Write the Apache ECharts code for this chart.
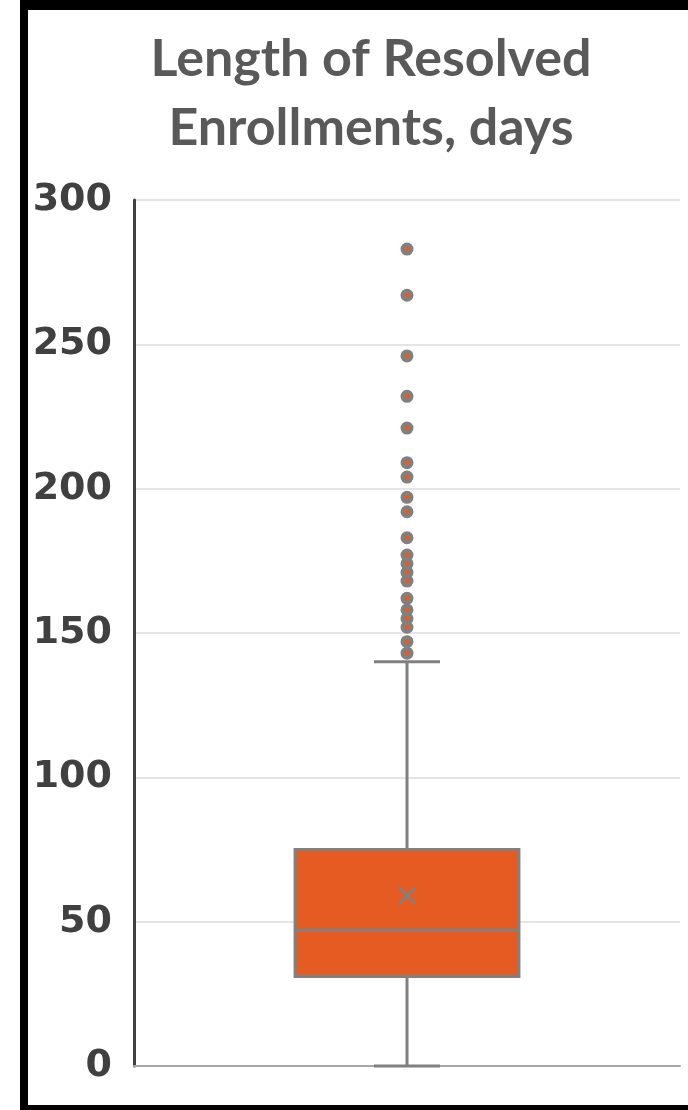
<!DOCTYPE html>
<html>
<head>
<meta charset="utf-8">
<script src="https://cdn.jsdelivr.net/npm/echarts@6/dist/echarts.min.js"></script>
<style>
  html, body { margin: 0; padding: 0; background: #ffffff; }
  #chart { width: 688px; height: 1110px; }
</style>
</head>
<body>
<div id="chart"></div>
<script>
// ---- data ----
const categories = ['Length of Resolved Enrollments'];
// [lower whisker, Q1, median, Q3, upper whisker]
const boxStats = [0, 31, 47, 75, 140];
const meanValue = 59;
const outliers = [283, 267, 246, 232, 221, 209, 204, 197, 192, 183, 177, 174, 171, 168, 162, 158, 155, 152, 147, 143];
const yTicks = { min: 0, max: 300, interval: 50 };
const titleText = 'Length of Resolved\nEnrollments, days';

const BOX_FILL = '#E55B22';
const GRAY = '#808080';

const chart = echarts.init(document.getElementById('chart'));

const option = {
  backgroundColor: '#ffffff',
  animation: false,
  title: {
    text: titleText,
    left: 366,
    top: 20,
    textAlign: 'center',
    textStyle: {
      fontFamily: 'Lato',
      fontWeight: 'bold',
      fontSize: 52,
      lineHeight: 69,
      color: '#595959'
    }
  },
  graphic: [
    { type: 'rect', shape: { x: 20, y: 0, width: 8, height: 1110 }, style: { fill: '#000' }, z: 100 },
    { type: 'rect', shape: { x: 20, y: 0, width: 668, height: 10 }, style: { fill: '#000' }, z: 100 },
    { type: 'rect', shape: { x: 20, y: 1105, width: 668, height: 5 }, style: { fill: '#000' }, z: 100 }
  ],
  grid: { left: 134, right: 8, top: 200, bottom: 44, containLabel: false },
  xAxis: {
    type: 'category',
    data: categories,
    boundaryGap: true,
    axisLine: { show: true, lineStyle: { color: '#a6a6a6', width: 2 } },
    axisTick: { show: false },
    axisLabel: { show: false },
    splitLine: { show: false }
  },
  yAxis: {
    type: 'value',
    min: yTicks.min,
    max: yTicks.max,
    interval: yTicks.interval,
    axisLine: { show: true, lineStyle: { color: '#404040', width: 3 } },
    axisTick: { show: false },
    axisLabel: {
      margin: 22,
      fontFamily: 'DejaVu Sans',
      fontWeight: 'bold',
      fontSize: 38,
      color: '#404040'
    },
    splitLine: { show: true, lineStyle: { color: '#dcdcdc', width: 1.5 } }
  },
  series: [
    {
      type: 'custom',
      z: 3,
      data: [[0].concat(boxStats, [meanValue])],
      renderItem: function (params, api) {
        const x = api.value(0);
        const pMin = api.coord([x, api.value(1)]);
        const pQ1 = api.coord([x, api.value(2)]);
        const pMed = api.coord([x, api.value(3)]);
        const pQ3 = api.coord([x, api.value(4)]);
        const pMax = api.coord([x, api.value(5)]);
        const pMean = api.coord([x, api.value(6)]);
        const band = api.size([1, 0])[0];
        const halfBox = band * 0.41 / 2;
        const halfCap = band * 0.121 / 2;
        const cx = pMed[0];
        const lineStyle = { stroke: GRAY, lineWidth: 3, fill: null };
        const m = 8;
        return {
          type: 'group',
          children: [
            { type: 'line', shape: { x1: cx, y1: pQ3[1], x2: cx, y2: pMax[1] }, style: lineStyle },
            { type: 'line', shape: { x1: cx, y1: pQ1[1], x2: cx, y2: pMin[1] }, style: lineStyle },
            { type: 'line', shape: { x1: cx - halfCap, y1: pMax[1], x2: cx + halfCap, y2: pMax[1] }, style: lineStyle },
            { type: 'line', shape: { x1: cx - halfCap, y1: pMin[1], x2: cx + halfCap, y2: pMin[1] }, style: lineStyle },
            { type: 'rect', shape: { x: cx - halfBox, y: pQ3[1], width: halfBox * 2, height: pQ1[1] - pQ3[1] },
              style: { fill: BOX_FILL, stroke: GRAY, lineWidth: 3 } },
            { type: 'line', shape: { x1: cx - halfBox, y1: pMed[1], x2: cx + halfBox, y2: pMed[1] }, style: lineStyle },
            { type: 'line', shape: { x1: pMean[0] - m, y1: pMean[1] - m, x2: pMean[0] + m, y2: pMean[1] + m }, style: lineStyle },
            { type: 'line', shape: { x1: pMean[0] - m, y1: pMean[1] + m, x2: pMean[0] + m, y2: pMean[1] - m }, style: lineStyle }
          ]
        };
      }
    },
    {
      type: 'scatter',
      z: 4,
      symbol: 'circle',
      symbolSize: 9,
      itemStyle: { color: BOX_FILL, borderColor: GRAY, borderWidth: 4, opacity: 1 },
      data: outliers.map(function (v) { return [categories[0], v]; })
    }
  ]
};

chart.setOption(option);
</script>
</body>
</html>
